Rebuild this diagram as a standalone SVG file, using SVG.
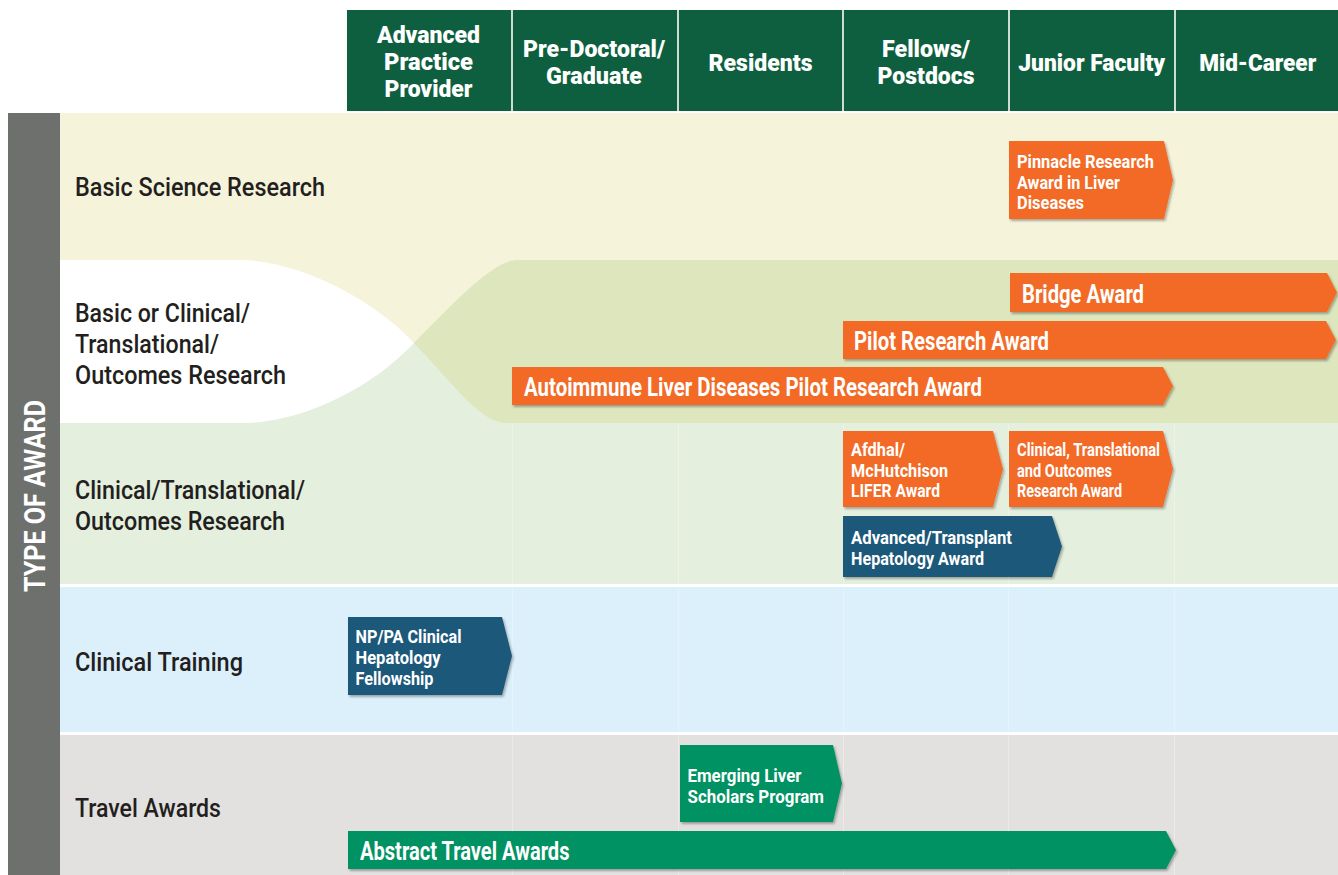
<svg xmlns="http://www.w3.org/2000/svg" width="1338" height="875" viewBox="0 0 1338 875">
<defs>
<style>
.hd{font-family:Roboto,"Liberation Sans",sans-serif;font-weight:900;font-size:24px;fill:#ffffff;text-anchor:middle}
.rl{font-family:Roboto,"Liberation Sans",sans-serif;font-weight:500;font-size:26px;fill:#231f20}
.at{font-family:Roboto,"Liberation Sans",sans-serif;font-weight:700;fill:#ffffff}
.a1{font-size:26px}
.a3{font-size:19px}
.or{fill:#f26b26}
.nv{fill:#1f597a}
.gr{fill:#009262}
.grid{stroke:#ffffff;stroke-width:1;opacity:0.3}
</style>
<filter id="sh" x="-5%" y="-10%" width="115%" height="130%">
<feDropShadow dx="1.5" dy="2" stdDeviation="1" flood-color="#000000" flood-opacity="0.3"/>
</filter>
</defs>
<rect width="1338" height="875" fill="#ffffff"/>

<g id="bands">
<rect x="60" y="113" width="1278" height="147" fill="#f5f3da"/>
<rect x="60" y="260" width="1278" height="83" fill="#f5f3da"/>
<rect x="60" y="343" width="1278" height="80" fill="#e4efde"/>
<path d="M60,260 H243 C300,262 372,298 414,343 C372,388 305,420 250,423 H60 Z" fill="#ffffff"/>
<path d="M1338,260 H518 C498,260 470,285 414,343 C460,392 482,423 507,423 H1338 Z" fill="#dde6bd"/>
<rect x="60" y="423" width="1278" height="161" fill="#e4efde"/>
<rect x="60" y="587" width="1278" height="145" fill="#dbf0fb"/>
<rect x="60" y="735" width="1278" height="140" fill="#e2e1df"/>
<g class="grid">
<line x1="512.5" y1="424" x2="512.5" y2="875"/>
<line x1="678.5" y1="424" x2="678.5" y2="875"/>
<line x1="843.5" y1="424" x2="843.5" y2="875"/>
<line x1="1008.5" y1="424" x2="1008.5" y2="875"/>
<line x1="1174.5" y1="424" x2="1174.5" y2="875"/>
</g>
</g>

<g id="sidebar">
<rect x="8" y="113" width="52" height="762" fill="#6e706d"/>
<text transform="translate(45,496) rotate(-90)" font-family="Roboto,'Liberation Sans',sans-serif" font-weight="700" font-size="29" fill="#ffffff" text-anchor="middle" textLength="192" lengthAdjust="spacingAndGlyphs">TYPE OF AWARD</text>
</g>

<g id="header">
<rect x="347" y="10" width="991" height="101" fill="#0e5f3f"/>
<g stroke="#cfdcd3" stroke-width="2">
<line x1="512" y1="10" x2="512" y2="111"/>
<line x1="678" y1="10" x2="678" y2="111"/>
<line x1="843" y1="10" x2="843" y2="111"/>
<line x1="1009" y1="10" x2="1009" y2="111"/>
<line x1="1175" y1="10" x2="1175" y2="111"/>
</g>
<g id="col-app">
<text class="hd" x="428.5" y="43" textLength="103" lengthAdjust="spacingAndGlyphs">Advanced</text>
<text class="hd" x="428.5" y="70" textLength="89" lengthAdjust="spacingAndGlyphs">Practice</text>
<text class="hd" x="428.5" y="97" textLength="88" lengthAdjust="spacingAndGlyphs">Provider</text>
</g>
<g id="col-predoc">
<text class="hd" x="594" y="57" textLength="142" lengthAdjust="spacingAndGlyphs">Pre-Doctoral/</text>
<text class="hd" x="594" y="84" textLength="96" lengthAdjust="spacingAndGlyphs">Graduate</text>
</g>
<g id="col-residents">
<text class="hd" x="760.5" y="71" textLength="104" lengthAdjust="spacingAndGlyphs">Residents</text>
</g>
<g id="col-fellows">
<text class="hd" x="926" y="57" textLength="88" lengthAdjust="spacingAndGlyphs">Fellows/</text>
<text class="hd" x="926" y="84" textLength="97" lengthAdjust="spacingAndGlyphs">Postdocs</text>
</g>
<g id="col-junior">
<text class="hd" x="1091.7" y="71" textLength="147" lengthAdjust="spacingAndGlyphs">Junior Faculty</text>
</g>
<g id="col-mid">
<text class="hd" x="1257.7" y="71" textLength="117" lengthAdjust="spacingAndGlyphs">Mid-Career</text>
</g>
</g>

<g id="row-labels">
<g id="row-basic">
<text class="rl" x="75" y="196" textLength="250" lengthAdjust="spacingAndGlyphs">Basic Science Research</text>
</g>
<g id="row-basic-or-clinical">
<text class="rl" x="75" y="322" textLength="175" lengthAdjust="spacingAndGlyphs">Basic or Clinical/</text>
<text class="rl" x="75" y="353" textLength="144" lengthAdjust="spacingAndGlyphs">Translational/</text>
<text class="rl" x="75" y="384" textLength="211" lengthAdjust="spacingAndGlyphs">Outcomes Research</text>
</g>
<g id="row-clinical">
<text class="rl" x="75" y="499" textLength="230" lengthAdjust="spacingAndGlyphs">Clinical/Translational/</text>
<text class="rl" x="75" y="530" textLength="210" lengthAdjust="spacingAndGlyphs">Outcomes Research</text>
</g>
<g id="row-training">
<text class="rl" x="75" y="671" textLength="168" lengthAdjust="spacingAndGlyphs">Clinical Training</text>
</g>
<g id="row-travel">
<text class="rl" x="75" y="817" textLength="146" lengthAdjust="spacingAndGlyphs">Travel Awards</text>
</g>
</g>

<g id="connectors"></g>

<g id="pinnacle">
<path class="or" filter="url(#sh)" d="M1009,141 H1164 L1173,180 L1164,219 H1009 Z"/>
<text class="at a3" x="1017" y="168" textLength="137" lengthAdjust="spacingAndGlyphs">Pinnacle Research</text>
<text class="at a3" x="1017" y="189" textLength="103" lengthAdjust="spacingAndGlyphs">Award in Liver</text>
<text class="at a3" x="1017" y="209" textLength="67" lengthAdjust="spacingAndGlyphs">Diseases</text>
</g>

<g id="bridge">
<path class="or" filter="url(#sh)" d="M1010,273 H1327 L1337,292.5 L1327,312 H1010 Z"/>
<text class="at a1" x="1022" y="303" textLength="122" lengthAdjust="spacingAndGlyphs">Bridge Award</text>
</g>

<g id="pilot">
<path class="or" filter="url(#sh)" d="M843,321 H1326 L1336,340 L1326,359 H843 Z"/>
<text class="at a1" x="854" y="350" textLength="195" lengthAdjust="spacingAndGlyphs">Pilot Research Award</text>
</g>

<g id="autoimmune">
<path class="or" filter="url(#sh)" d="M512,367 H1163 L1173,386 L1163,405 H512 Z"/>
<text class="at a1" x="524" y="396" textLength="458" lengthAdjust="spacingAndGlyphs">Autoimmune Liver Diseases Pilot Research Award</text>
</g>

<g id="afdhal">
<path class="or" filter="url(#sh)" d="M843,431 H993 L1003,469 L993,507 H843 Z"/>
<text class="at a3" x="851" y="456" textLength="54" lengthAdjust="spacingAndGlyphs">Afdhal/</text>
<text class="at a3" x="851" y="477" textLength="97" lengthAdjust="spacingAndGlyphs">McHutchison</text>
<text class="at a3" x="851" y="497" textLength="89" lengthAdjust="spacingAndGlyphs">LIFER Award</text>
</g>

<g id="ctor">
<path class="or" filter="url(#sh)" d="M1009,431 H1163 L1173,469 L1163,507 H1009 Z"/>
<text class="at a3" x="1017" y="456" textLength="143" lengthAdjust="spacingAndGlyphs">Clinical, Translational</text>
<text class="at a3" x="1017" y="477" textLength="95" lengthAdjust="spacingAndGlyphs">and Outcomes</text>
<text class="at a3" x="1017" y="497" textLength="105" lengthAdjust="spacingAndGlyphs">Research Award</text>
</g>

<g id="advanced-transplant">
<path class="nv" filter="url(#sh)" d="M843,516 H1052 L1062,546.5 L1052,577 H843 Z"/>
<text class="at a3" x="851" y="544" textLength="161" lengthAdjust="spacingAndGlyphs">Advanced/Transplant</text>
<text class="at a3" x="851" y="565" textLength="133" lengthAdjust="spacingAndGlyphs">Hepatology Award</text>
</g>

<g id="nppa">
<path class="nv" filter="url(#sh)" d="M348,617 H502 L512,656 L502,695 H348 Z"/>
<text class="at a3" x="355.5" y="643" textLength="106" lengthAdjust="spacingAndGlyphs">NP/PA Clinical</text>
<text class="at a3" x="355.5" y="664" textLength="85" lengthAdjust="spacingAndGlyphs">Hepatology</text>
<text class="at a3" x="355.5" y="685" textLength="78" lengthAdjust="spacingAndGlyphs">Fellowship</text>
</g>

<g id="emerging">
<path class="gr" filter="url(#sh)" d="M680,745 H833 L842,783.5 L833,822 H680 Z"/>
<text class="at a3" x="687.5" y="782" textLength="114" lengthAdjust="spacingAndGlyphs">Emerging Liver</text>
<text class="at a3" x="687.5" y="803" textLength="136.5" lengthAdjust="spacingAndGlyphs">Scholars Program</text>
</g>

<g id="abstract">
<path class="gr" filter="url(#sh)" d="M348,831 H1166 L1176,850 L1166,869 H348 Z"/>
<text class="at a1" x="360" y="860" textLength="209.5" lengthAdjust="spacingAndGlyphs">Abstract Travel Awards</text>
</g>
</svg>
